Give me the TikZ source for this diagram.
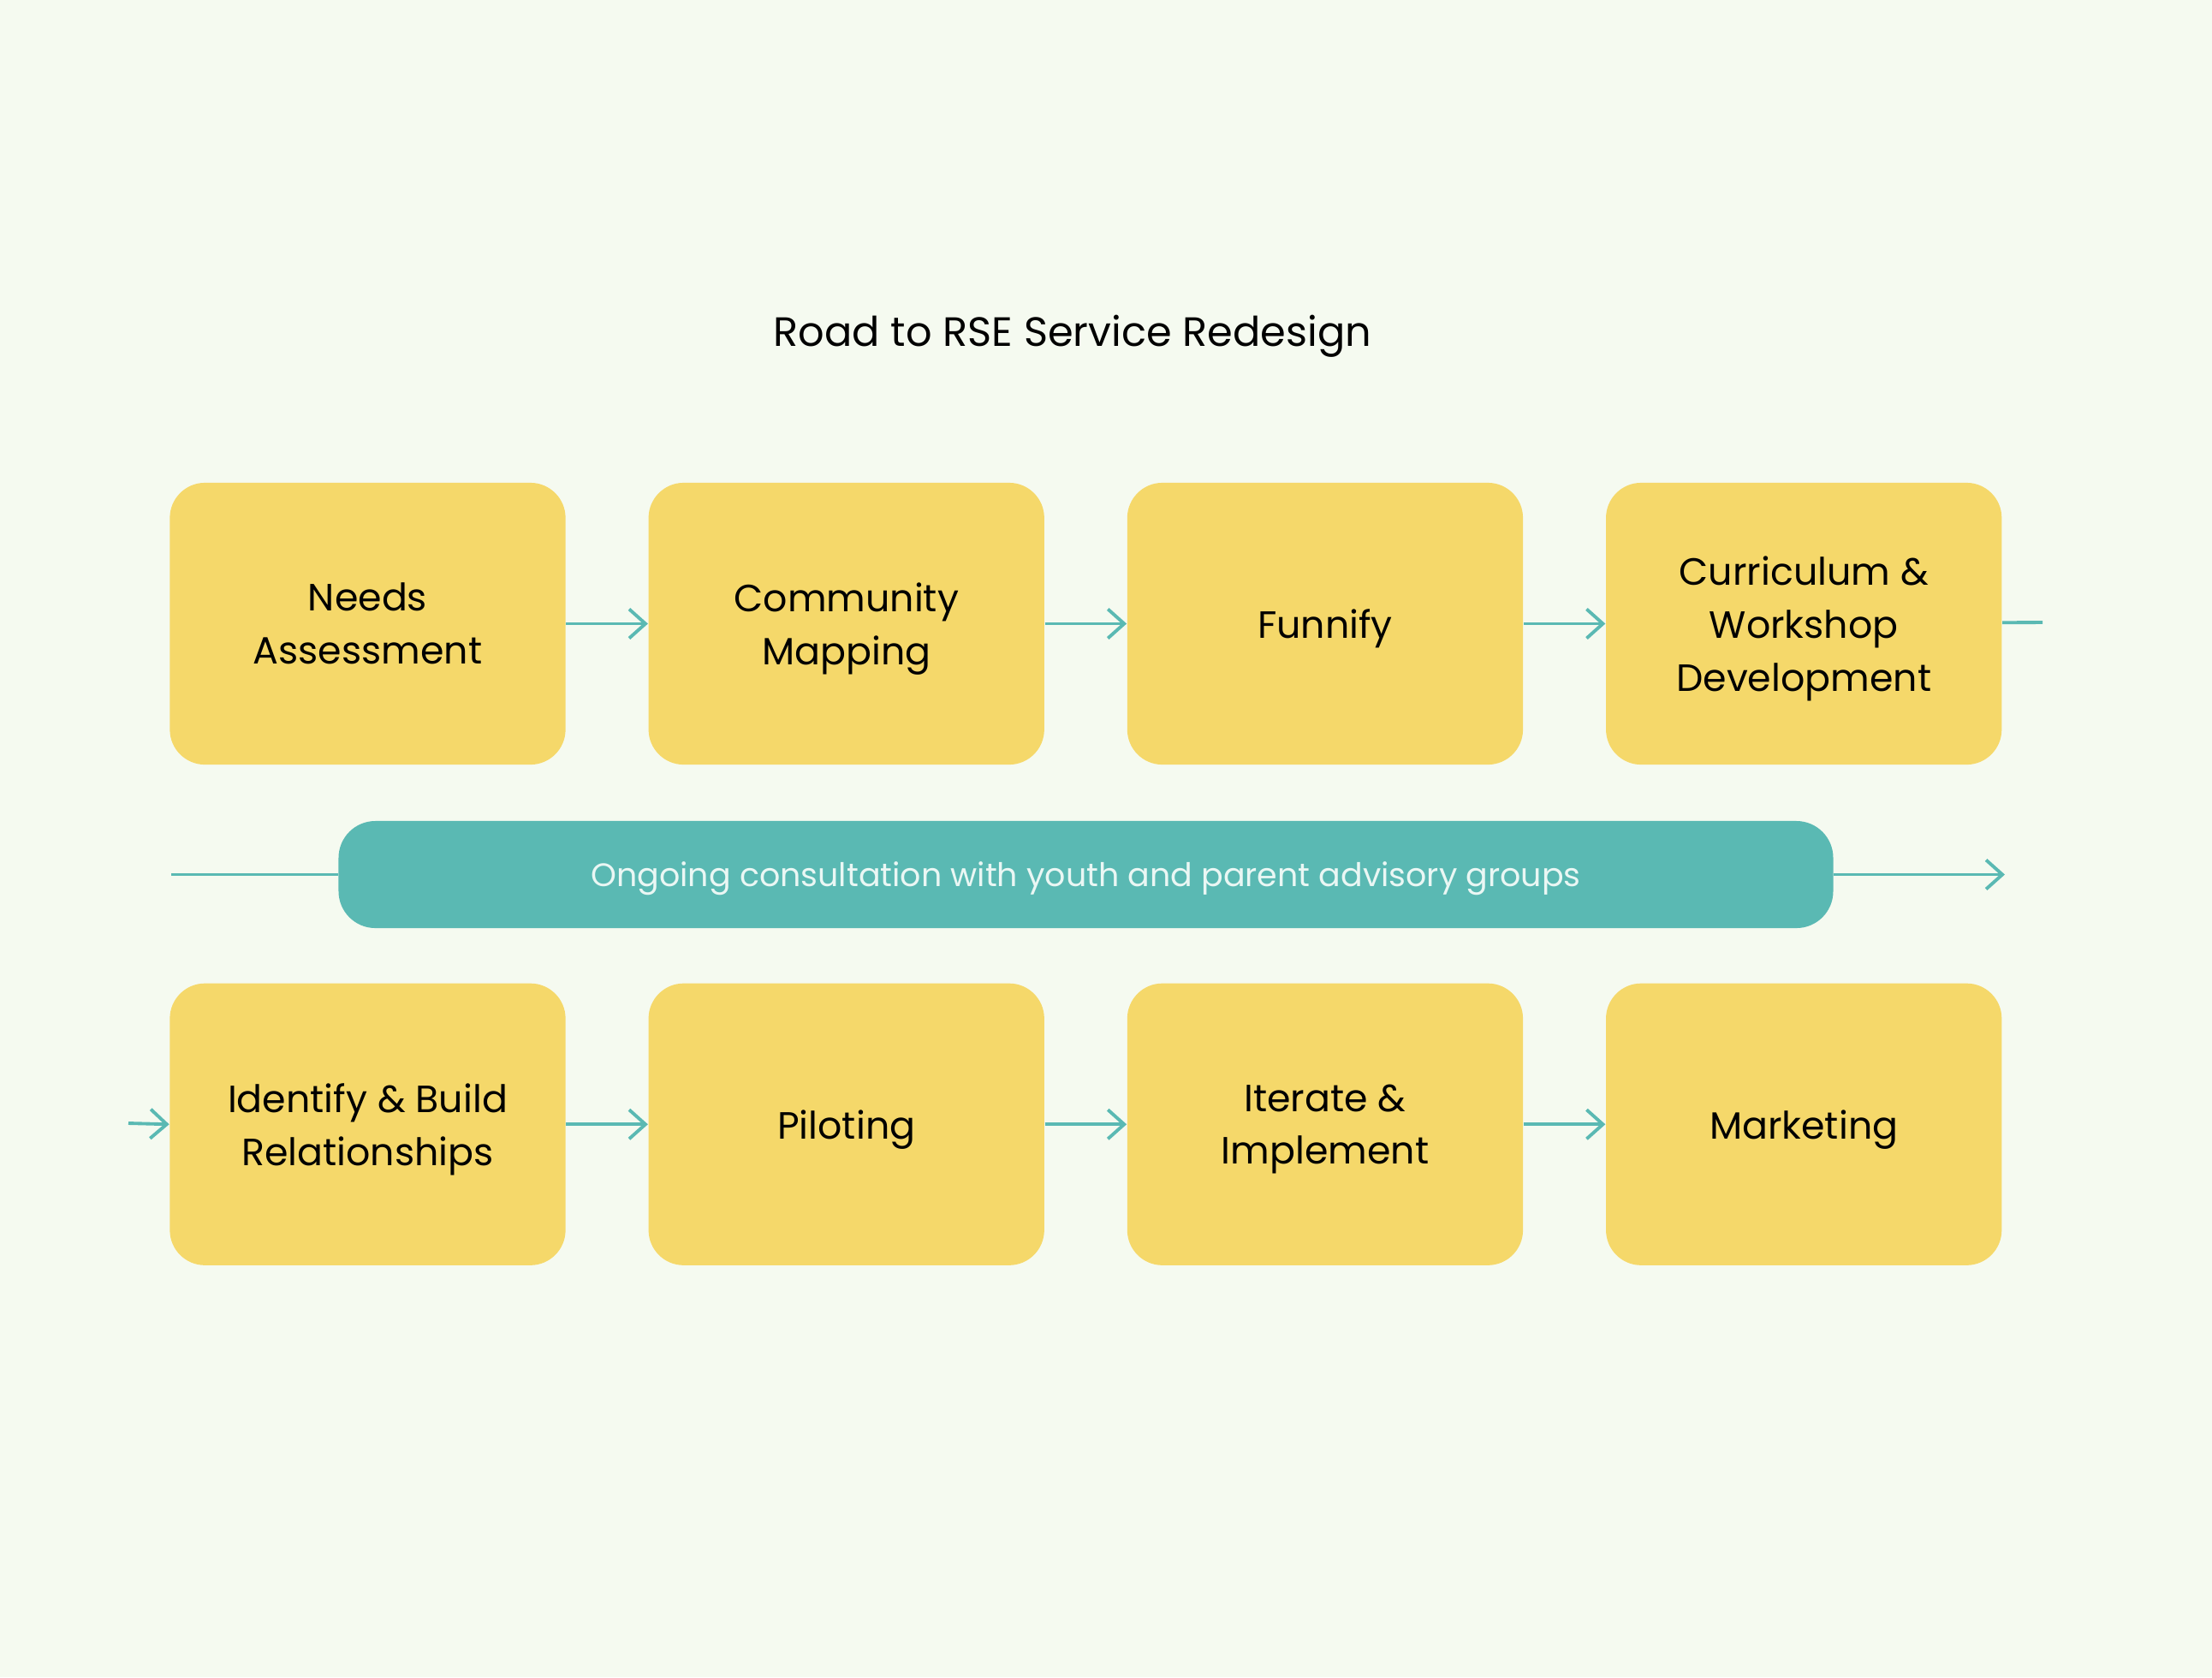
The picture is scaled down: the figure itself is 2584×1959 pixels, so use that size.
\documentclass[tikz,border=0pt]{standalone}
\usepackage{fontspec}
\setmainfont{Poppins}
\usetikzlibrary{positioning,arrows.meta}
\definecolor{paper}{RGB}{245,250,240}
\definecolor{sunny}{RGB}{245,216,106}
\definecolor{lagoon}{RGB}{90,185,179}
\definecolor{mist}{RGB}{234,247,244}

\begin{document}
\begin{tikzpicture}[x=0.01cm,y=-0.01cm,>={Straight Barb[length=0.19cm,width=0.34cm]},
  node distance=0.955cm,
  phase/.style={rectangle,rounded corners=0.41cm,fill=sunny,minimum width=4.62cm,
    minimum height=3.29cm,align=center,inner sep=0pt,text depth=0pt,
    font=\fontsize{12.6}{17.6}\selectfont},
  flow/.style={draw=lagoon,line width=1.1pt},
  band/.style={rectangle,rounded corners=0.43cm,fill=lagoon,minimum width=17.45cm,
    minimum height=1.25cm,text=mist,inner sep=0pt,text depth=0pt,
    font=\fontsize{10.8}{13}\selectfont}]
  \fill[paper] (0,0) rectangle (2584,1959);
  \useasboundingbox (0,0) rectangle (2584,1959);

  \node (title) at (1253,393) {\fontsize{13.6}{16}\selectfont Road to RSE Service Redesign};

  % top row
  \node[phase] (needs) at (429.5,728.5) {Needs\\Assessment};
  \node[phase] (mapping) [right=of needs] {Community\\Mapping};
  \node[phase] (funnify) [right=of mapping] {Funnify};
  \node[phase] (curric) [right=of funnify] {Curriculum \&\\Workshop\\Development};

  % bottom row
  \node[phase] (identify) [below=2.54cm of needs] {Identify \& Build\\Relationships};
  \node[phase] (piloting) [right=of identify] {Piloting};
  \node[phase] (iterate) [right=of piloting] {Iterate \&\\Implement};
  \node[phase] (marketing) [right=of iterate] {Marketing};

  % consultation band
  \node[band] (consult) at (1268.5,1021.5) {Ongoing consultation with youth and parent advisory groups};

  \coordinate (topend) at (2386,727);
  \coordinate (bandin) at (200,1021.5);
  \coordinate (bandout) at (2342,1021.5);
  \coordinate (botstart) at (150,1312);

  \path[flow,->]
    (needs) edge (mapping)
    (mapping) edge (funnify)
    (funnify) edge (curric)
    (identify) edge (piloting)
    (piloting) edge (iterate)
    (iterate) edge (marketing)
    (consult) edge (bandout);
  \draw[flow,->] (botstart) -- (identify.west);
  \draw[flow] (curric) -- (topend);
  \draw[flow] (bandin) -- (consult);
\end{tikzpicture}
\end{document}
